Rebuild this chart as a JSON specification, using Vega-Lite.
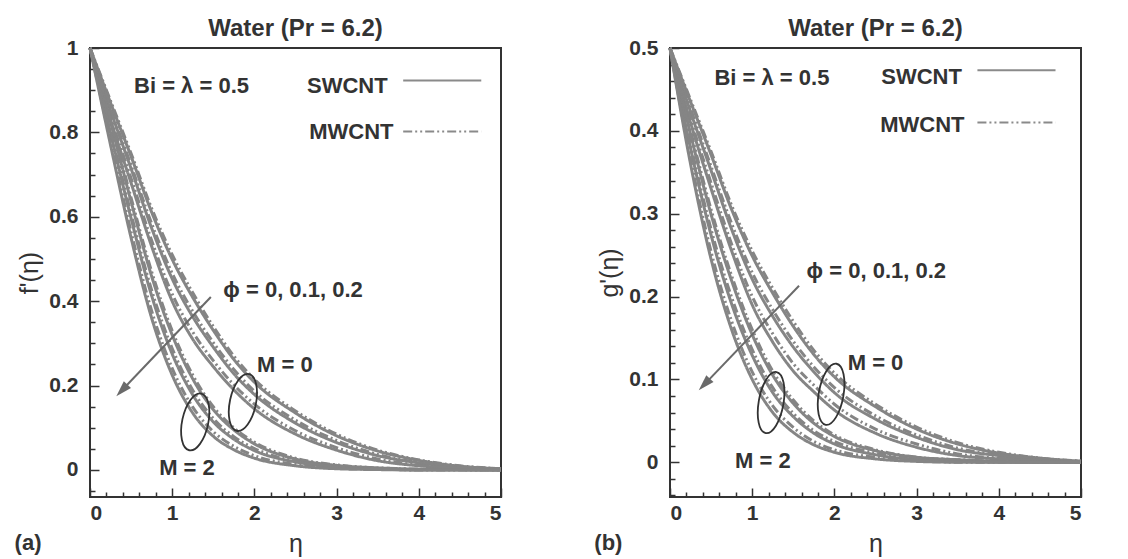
{
  "$schema": "https://vega.github.io/schema/vega-lite/v6.json",
  "padding": {"left": 13, "top": 16, "right": 5, "bottom": 0},
  "background": "white",
  "spacing": 169,
  "bounds": "flush",
  "config": {
    "view": {"stroke": "#333333", "strokeWidth": 2},
    "font": "Liberation Sans",
    "axis": {
      "domain": false, "grid": false, "labelOverlap": false, "format": "~g", "tickCount": 100,
      "labelFont": "Liberation Sans", "labelFontSize": 21, "labelFontWeight": "bold", "labelColor": "#333333",
      "tickColor": "#333333", "tickWidth": 1.5,
      "titleFont": "Liberation Sans", "titleFontSize": 25, "titleFontWeight": "normal", "titleColor": "#333333"
    },
    "title": {"font": "Liberation Sans", "fontSize": 24, "fontWeight": "bold", "color": "#333333", "offset": -4, "frame": "group"}
  },
  "datasets": {
    "fa": [
      {"M":0,"phi":0,"cnt":"MWCNT","eta":0,"v":1},{"M":0,"phi":0,"cnt":"MWCNT","eta":0.25,"v":0.875},{"M":0,"phi":0,"cnt":"MWCNT","eta":0.5,"v":0.75},{"M":0,"phi":0,"cnt":"MWCNT","eta":0.75,"v":0.62},{"M":0,"phi":0,"cnt":"MWCNT","eta":1,"v":0.51},{"M":0,"phi":0,"cnt":"MWCNT","eta":1.25,"v":0.42},{"M":0,"phi":0,"cnt":"MWCNT","eta":1.5,"v":0.34},{"M":0,"phi":0,"cnt":"MWCNT","eta":1.75,"v":0.27},{"M":0,"phi":0,"cnt":"MWCNT","eta":2,"v":0.215},{"M":0,"phi":0,"cnt":"MWCNT","eta":2.5,"v":0.14},{"M":0,"phi":0,"cnt":"MWCNT","eta":3,"v":0.085},{"M":0,"phi":0,"cnt":"MWCNT","eta":3.5,"v":0.047},{"M":0,"phi":0,"cnt":"MWCNT","eta":4,"v":0.024},{"M":0,"phi":0,"cnt":"MWCNT","eta":4.5,"v":0.01},{"M":0,"phi":0,"cnt":"MWCNT","eta":5,"v":0.003},
      {"M":0,"phi":0,"cnt":"SWCNT","eta":0,"v":1},{"M":0,"phi":0,"cnt":"SWCNT","eta":0.25,"v":0.87},{"M":0,"phi":0,"cnt":"SWCNT","eta":0.5,"v":0.743},{"M":0,"phi":0,"cnt":"SWCNT","eta":0.75,"v":0.611},{"M":0,"phi":0,"cnt":"SWCNT","eta":1,"v":0.499},{"M":0,"phi":0,"cnt":"SWCNT","eta":1.25,"v":0.409},{"M":0,"phi":0,"cnt":"SWCNT","eta":1.5,"v":0.331},{"M":0,"phi":0,"cnt":"SWCNT","eta":1.75,"v":0.262},{"M":0,"phi":0,"cnt":"SWCNT","eta":2,"v":0.208},{"M":0,"phi":0,"cnt":"SWCNT","eta":2.5,"v":0.135},{"M":0,"phi":0,"cnt":"SWCNT","eta":3,"v":0.081},{"M":0,"phi":0,"cnt":"SWCNT","eta":3.5,"v":0.045},{"M":0,"phi":0,"cnt":"SWCNT","eta":4,"v":0.023},{"M":0,"phi":0,"cnt":"SWCNT","eta":4.5,"v":0.009},{"M":0,"phi":0,"cnt":"SWCNT","eta":5,"v":0.003},
      {"M":0,"phi":0.1,"cnt":"MWCNT","eta":0,"v":1},{"M":0,"phi":0.1,"cnt":"MWCNT","eta":0.25,"v":0.857},{"M":0,"phi":0.1,"cnt":"MWCNT","eta":0.5,"v":0.722},{"M":0,"phi":0.1,"cnt":"MWCNT","eta":0.75,"v":0.584},{"M":0,"phi":0.1,"cnt":"MWCNT","eta":1,"v":0.466},{"M":0,"phi":0.1,"cnt":"MWCNT","eta":1.25,"v":0.376},{"M":0,"phi":0.1,"cnt":"MWCNT","eta":1.5,"v":0.302},{"M":0,"phi":0.1,"cnt":"MWCNT","eta":1.75,"v":0.238},{"M":0,"phi":0.1,"cnt":"MWCNT","eta":2,"v":0.187},{"M":0,"phi":0.1,"cnt":"MWCNT","eta":2.5,"v":0.118},{"M":0,"phi":0.1,"cnt":"MWCNT","eta":3,"v":0.07},{"M":0,"phi":0.1,"cnt":"MWCNT","eta":3.5,"v":0.037},{"M":0,"phi":0.1,"cnt":"MWCNT","eta":4,"v":0.018},{"M":0,"phi":0.1,"cnt":"MWCNT","eta":4.5,"v":0.008},{"M":0,"phi":0.1,"cnt":"MWCNT","eta":5,"v":0.002},
      {"M":0,"phi":0.1,"cnt":"SWCNT","eta":0,"v":1},{"M":0,"phi":0.1,"cnt":"SWCNT","eta":0.25,"v":0.852},{"M":0,"phi":0.1,"cnt":"SWCNT","eta":0.5,"v":0.714},{"M":0,"phi":0.1,"cnt":"SWCNT","eta":0.75,"v":0.573},{"M":0,"phi":0.1,"cnt":"SWCNT","eta":1,"v":0.453},{"M":0,"phi":0.1,"cnt":"SWCNT","eta":1.25,"v":0.363},{"M":0,"phi":0.1,"cnt":"SWCNT","eta":1.5,"v":0.291},{"M":0,"phi":0.1,"cnt":"SWCNT","eta":1.75,"v":0.228},{"M":0,"phi":0.1,"cnt":"SWCNT","eta":2,"v":0.179},{"M":0,"phi":0.1,"cnt":"SWCNT","eta":2.5,"v":0.111},{"M":0,"phi":0.1,"cnt":"SWCNT","eta":3,"v":0.065},{"M":0,"phi":0.1,"cnt":"SWCNT","eta":3.5,"v":0.034},{"M":0,"phi":0.1,"cnt":"SWCNT","eta":4,"v":0.017},{"M":0,"phi":0.1,"cnt":"SWCNT","eta":4.5,"v":0.007},{"M":0,"phi":0.1,"cnt":"SWCNT","eta":5,"v":0.002},
      {"M":0,"phi":0.2,"cnt":"MWCNT","eta":0,"v":1},{"M":0,"phi":0.2,"cnt":"MWCNT","eta":0.25,"v":0.837},{"M":0,"phi":0.2,"cnt":"MWCNT","eta":0.5,"v":0.691},{"M":0,"phi":0.2,"cnt":"MWCNT","eta":0.75,"v":0.544},{"M":0,"phi":0.2,"cnt":"MWCNT","eta":1,"v":0.417},{"M":0,"phi":0.2,"cnt":"MWCNT","eta":1.25,"v":0.327},{"M":0,"phi":0.2,"cnt":"MWCNT","eta":1.5,"v":0.259},{"M":0,"phi":0.2,"cnt":"MWCNT","eta":1.75,"v":0.202},{"M":0,"phi":0.2,"cnt":"MWCNT","eta":2,"v":0.156},{"M":0,"phi":0.2,"cnt":"MWCNT","eta":2.5,"v":0.093},{"M":0,"phi":0.2,"cnt":"MWCNT","eta":3,"v":0.053},{"M":0,"phi":0.2,"cnt":"MWCNT","eta":3.5,"v":0.026},{"M":0,"phi":0.2,"cnt":"MWCNT","eta":4,"v":0.012},{"M":0,"phi":0.2,"cnt":"MWCNT","eta":4.5,"v":0.005},{"M":0,"phi":0.2,"cnt":"MWCNT","eta":5,"v":0.001},
      {"M":0,"phi":0.2,"cnt":"SWCNT","eta":0,"v":1},{"M":0,"phi":0.2,"cnt":"SWCNT","eta":0.25,"v":0.83},{"M":0,"phi":0.2,"cnt":"SWCNT","eta":0.5,"v":0.68},{"M":0,"phi":0.2,"cnt":"SWCNT","eta":0.75,"v":0.53},{"M":0,"phi":0.2,"cnt":"SWCNT","eta":1,"v":0.4},{"M":0,"phi":0.2,"cnt":"SWCNT","eta":1.25,"v":0.31},{"M":0,"phi":0.2,"cnt":"SWCNT","eta":1.5,"v":0.245},{"M":0,"phi":0.2,"cnt":"SWCNT","eta":1.75,"v":0.19},{"M":0,"phi":0.2,"cnt":"SWCNT","eta":2,"v":0.145},{"M":0,"phi":0.2,"cnt":"SWCNT","eta":2.5,"v":0.085},{"M":0,"phi":0.2,"cnt":"SWCNT","eta":3,"v":0.047},{"M":0,"phi":0.2,"cnt":"SWCNT","eta":3.5,"v":0.022},{"M":0,"phi":0.2,"cnt":"SWCNT","eta":4,"v":0.01},{"M":0,"phi":0.2,"cnt":"SWCNT","eta":4.5,"v":0.004},{"M":0,"phi":0.2,"cnt":"SWCNT","eta":5,"v":0.001},
      {"M":2,"phi":0,"cnt":"MWCNT","eta":0,"v":1},{"M":2,"phi":0,"cnt":"MWCNT","eta":0.25,"v":0.83},{"M":2,"phi":0,"cnt":"MWCNT","eta":0.5,"v":0.645},{"M":2,"phi":0,"cnt":"MWCNT","eta":0.75,"v":0.47},{"M":2,"phi":0,"cnt":"MWCNT","eta":1,"v":0.33},{"M":2,"phi":0,"cnt":"MWCNT","eta":1.25,"v":0.225},{"M":2,"phi":0,"cnt":"MWCNT","eta":1.5,"v":0.15},{"M":2,"phi":0,"cnt":"MWCNT","eta":1.75,"v":0.1},{"M":2,"phi":0,"cnt":"MWCNT","eta":2,"v":0.066},{"M":2,"phi":0,"cnt":"MWCNT","eta":2.5,"v":0.028},{"M":2,"phi":0,"cnt":"MWCNT","eta":3,"v":0.012},{"M":2,"phi":0,"cnt":"MWCNT","eta":3.5,"v":0.005},{"M":2,"phi":0,"cnt":"MWCNT","eta":4,"v":0.002},{"M":2,"phi":0,"cnt":"MWCNT","eta":4.5,"v":0.001},{"M":2,"phi":0,"cnt":"MWCNT","eta":5,"v":0},
      {"M":2,"phi":0,"cnt":"SWCNT","eta":0,"v":1},{"M":2,"phi":0,"cnt":"SWCNT","eta":0.25,"v":0.824},{"M":2,"phi":0,"cnt":"SWCNT","eta":0.5,"v":0.636},{"M":2,"phi":0,"cnt":"SWCNT","eta":0.75,"v":0.459},{"M":2,"phi":0,"cnt":"SWCNT","eta":1,"v":0.32},{"M":2,"phi":0,"cnt":"SWCNT","eta":1.25,"v":0.216},{"M":2,"phi":0,"cnt":"SWCNT","eta":1.5,"v":0.143},{"M":2,"phi":0,"cnt":"SWCNT","eta":1.75,"v":0.095},{"M":2,"phi":0,"cnt":"SWCNT","eta":2,"v":0.062},{"M":2,"phi":0,"cnt":"SWCNT","eta":2.5,"v":0.026},{"M":2,"phi":0,"cnt":"SWCNT","eta":3,"v":0.011},{"M":2,"phi":0,"cnt":"SWCNT","eta":3.5,"v":0.005},{"M":2,"phi":0,"cnt":"SWCNT","eta":4,"v":0.002},{"M":2,"phi":0,"cnt":"SWCNT","eta":4.5,"v":0.001},{"M":2,"phi":0,"cnt":"SWCNT","eta":5,"v":0},
      {"M":2,"phi":0.1,"cnt":"MWCNT","eta":0,"v":1},{"M":2,"phi":0.1,"cnt":"MWCNT","eta":0.25,"v":0.806},{"M":2,"phi":0.1,"cnt":"MWCNT","eta":0.5,"v":0.607},{"M":2,"phi":0.1,"cnt":"MWCNT","eta":0.75,"v":0.426},{"M":2,"phi":0.1,"cnt":"MWCNT","eta":1,"v":0.288},{"M":2,"phi":0.1,"cnt":"MWCNT","eta":1.25,"v":0.189},{"M":2,"phi":0.1,"cnt":"MWCNT","eta":1.5,"v":0.122},{"M":2,"phi":0.1,"cnt":"MWCNT","eta":1.75,"v":0.079},{"M":2,"phi":0.1,"cnt":"MWCNT","eta":2,"v":0.051},{"M":2,"phi":0.1,"cnt":"MWCNT","eta":2.5,"v":0.021},{"M":2,"phi":0.1,"cnt":"MWCNT","eta":3,"v":0.008},{"M":2,"phi":0.1,"cnt":"MWCNT","eta":3.5,"v":0.003},{"M":2,"phi":0.1,"cnt":"MWCNT","eta":4,"v":0.001},{"M":2,"phi":0.1,"cnt":"MWCNT","eta":4.5,"v":0.001},{"M":2,"phi":0.1,"cnt":"MWCNT","eta":5,"v":0},
      {"M":2,"phi":0.1,"cnt":"SWCNT","eta":0,"v":1},{"M":2,"phi":0.1,"cnt":"SWCNT","eta":0.25,"v":0.799},{"M":2,"phi":0.1,"cnt":"SWCNT","eta":0.5,"v":0.596},{"M":2,"phi":0.1,"cnt":"SWCNT","eta":0.75,"v":0.413},{"M":2,"phi":0.1,"cnt":"SWCNT","eta":1,"v":0.275},{"M":2,"phi":0.1,"cnt":"SWCNT","eta":1.25,"v":0.178},{"M":2,"phi":0.1,"cnt":"SWCNT","eta":1.5,"v":0.114},{"M":2,"phi":0.1,"cnt":"SWCNT","eta":1.75,"v":0.073},{"M":2,"phi":0.1,"cnt":"SWCNT","eta":2,"v":0.046},{"M":2,"phi":0.1,"cnt":"SWCNT","eta":2.5,"v":0.019},{"M":2,"phi":0.1,"cnt":"SWCNT","eta":3,"v":0.007},{"M":2,"phi":0.1,"cnt":"SWCNT","eta":3.5,"v":0.003},{"M":2,"phi":0.1,"cnt":"SWCNT","eta":4,"v":0},{"M":2,"phi":0.1,"cnt":"SWCNT","eta":4.5,"v":0},{"M":2,"phi":0.1,"cnt":"SWCNT","eta":5,"v":0},
      {"M":2,"phi":0.2,"cnt":"MWCNT","eta":0,"v":1},{"M":2,"phi":0.2,"cnt":"MWCNT","eta":0.25,"v":0.779},{"M":2,"phi":0.2,"cnt":"MWCNT","eta":0.5,"v":0.564},{"M":2,"phi":0.2,"cnt":"MWCNT","eta":0.75,"v":0.377},{"M":2,"phi":0.2,"cnt":"MWCNT","eta":1,"v":0.241},{"M":2,"phi":0.2,"cnt":"MWCNT","eta":1.25,"v":0.149},{"M":2,"phi":0.2,"cnt":"MWCNT","eta":1.5,"v":0.091},{"M":2,"phi":0.2,"cnt":"MWCNT","eta":1.75,"v":0.056},{"M":2,"phi":0.2,"cnt":"MWCNT","eta":2,"v":0.034},{"M":2,"phi":0.2,"cnt":"MWCNT","eta":2.5,"v":0.013},{"M":2,"phi":0.2,"cnt":"MWCNT","eta":3,"v":0.004},{"M":2,"phi":0.2,"cnt":"MWCNT","eta":3.5,"v":0.002},{"M":2,"phi":0.2,"cnt":"MWCNT","eta":4,"v":0},{"M":2,"phi":0.2,"cnt":"MWCNT","eta":4.5,"v":0},{"M":2,"phi":0.2,"cnt":"MWCNT","eta":5,"v":0},
      {"M":2,"phi":0.2,"cnt":"SWCNT","eta":0,"v":1},{"M":2,"phi":0.2,"cnt":"SWCNT","eta":0.25,"v":0.77},{"M":2,"phi":0.2,"cnt":"SWCNT","eta":0.5,"v":0.55},{"M":2,"phi":0.2,"cnt":"SWCNT","eta":0.75,"v":0.36},{"M":2,"phi":0.2,"cnt":"SWCNT","eta":1,"v":0.225},{"M":2,"phi":0.2,"cnt":"SWCNT","eta":1.25,"v":0.135},{"M":2,"phi":0.2,"cnt":"SWCNT","eta":1.5,"v":0.08},{"M":2,"phi":0.2,"cnt":"SWCNT","eta":1.75,"v":0.048},{"M":2,"phi":0.2,"cnt":"SWCNT","eta":2,"v":0.028},{"M":2,"phi":0.2,"cnt":"SWCNT","eta":2.5,"v":0.01},{"M":2,"phi":0.2,"cnt":"SWCNT","eta":3,"v":0.003},{"M":2,"phi":0.2,"cnt":"SWCNT","eta":3.5,"v":0.001},{"M":2,"phi":0.2,"cnt":"SWCNT","eta":4,"v":0},{"M":2,"phi":0.2,"cnt":"SWCNT","eta":4.5,"v":0},{"M":2,"phi":0.2,"cnt":"SWCNT","eta":5,"v":0}
    ],
    "gb": [
      {"M":0,"phi":0,"cnt":"MWCNT","eta":0,"v":0.5},{"M":0,"phi":0,"cnt":"MWCNT","eta":0.25,"v":0.4375},{"M":0,"phi":0,"cnt":"MWCNT","eta":0.5,"v":0.375},{"M":0,"phi":0,"cnt":"MWCNT","eta":0.75,"v":0.31},{"M":0,"phi":0,"cnt":"MWCNT","eta":1,"v":0.255},{"M":0,"phi":0,"cnt":"MWCNT","eta":1.25,"v":0.21},{"M":0,"phi":0,"cnt":"MWCNT","eta":1.5,"v":0.17},{"M":0,"phi":0,"cnt":"MWCNT","eta":1.75,"v":0.135},{"M":0,"phi":0,"cnt":"MWCNT","eta":2,"v":0.1075},{"M":0,"phi":0,"cnt":"MWCNT","eta":2.5,"v":0.07},{"M":0,"phi":0,"cnt":"MWCNT","eta":3,"v":0.0425},{"M":0,"phi":0,"cnt":"MWCNT","eta":3.5,"v":0.0235},{"M":0,"phi":0,"cnt":"MWCNT","eta":4,"v":0.012},{"M":0,"phi":0,"cnt":"MWCNT","eta":4.5,"v":0.005},{"M":0,"phi":0,"cnt":"MWCNT","eta":5,"v":0.0015},
      {"M":0,"phi":0,"cnt":"SWCNT","eta":0,"v":0.5},{"M":0,"phi":0,"cnt":"SWCNT","eta":0.25,"v":0.435},{"M":0,"phi":0,"cnt":"SWCNT","eta":0.5,"v":0.371},{"M":0,"phi":0,"cnt":"SWCNT","eta":0.75,"v":0.305},{"M":0,"phi":0,"cnt":"SWCNT","eta":1,"v":0.249},{"M":0,"phi":0,"cnt":"SWCNT","eta":1.25,"v":0.204},{"M":0,"phi":0,"cnt":"SWCNT","eta":1.5,"v":0.164},{"M":0,"phi":0,"cnt":"SWCNT","eta":1.75,"v":0.13},{"M":0,"phi":0,"cnt":"SWCNT","eta":2,"v":0.103},{"M":0,"phi":0,"cnt":"SWCNT","eta":2.5,"v":0.067},{"M":0,"phi":0,"cnt":"SWCNT","eta":3,"v":0.04},{"M":0,"phi":0,"cnt":"SWCNT","eta":3.5,"v":0.022},{"M":0,"phi":0,"cnt":"SWCNT","eta":4,"v":0.011},{"M":0,"phi":0,"cnt":"SWCNT","eta":4.5,"v":0.005},{"M":0,"phi":0,"cnt":"SWCNT","eta":5,"v":0.001},
      {"M":0,"phi":0.1,"cnt":"MWCNT","eta":0,"v":0.5},{"M":0,"phi":0.1,"cnt":"MWCNT","eta":0.25,"v":0.427},{"M":0,"phi":0.1,"cnt":"MWCNT","eta":0.5,"v":0.357},{"M":0,"phi":0.1,"cnt":"MWCNT","eta":0.75,"v":0.288},{"M":0,"phi":0.1,"cnt":"MWCNT","eta":1,"v":0.229},{"M":0,"phi":0.1,"cnt":"MWCNT","eta":1.25,"v":0.184},{"M":0,"phi":0.1,"cnt":"MWCNT","eta":1.5,"v":0.146},{"M":0,"phi":0.1,"cnt":"MWCNT","eta":1.75,"v":0.115},{"M":0,"phi":0.1,"cnt":"MWCNT","eta":2,"v":0.09},{"M":0,"phi":0.1,"cnt":"MWCNT","eta":2.5,"v":0.056},{"M":0,"phi":0.1,"cnt":"MWCNT","eta":3,"v":0.033},{"M":0,"phi":0.1,"cnt":"MWCNT","eta":3.5,"v":0.017},{"M":0,"phi":0.1,"cnt":"MWCNT","eta":4,"v":0.009},{"M":0,"phi":0.1,"cnt":"MWCNT","eta":4.5,"v":0.004},{"M":0,"phi":0.1,"cnt":"MWCNT","eta":5,"v":0.001},
      {"M":0,"phi":0.1,"cnt":"SWCNT","eta":0,"v":0.5},{"M":0,"phi":0.1,"cnt":"SWCNT","eta":0.25,"v":0.423},{"M":0,"phi":0.1,"cnt":"SWCNT","eta":0.5,"v":0.352},{"M":0,"phi":0.1,"cnt":"SWCNT","eta":0.75,"v":0.281},{"M":0,"phi":0.1,"cnt":"SWCNT","eta":1,"v":0.221},{"M":0,"phi":0.1,"cnt":"SWCNT","eta":1.25,"v":0.176},{"M":0,"phi":0.1,"cnt":"SWCNT","eta":1.5,"v":0.139},{"M":0,"phi":0.1,"cnt":"SWCNT","eta":1.75,"v":0.109},{"M":0,"phi":0.1,"cnt":"SWCNT","eta":2,"v":0.084},{"M":0,"phi":0.1,"cnt":"SWCNT","eta":2.5,"v":0.052},{"M":0,"phi":0.1,"cnt":"SWCNT","eta":3,"v":0.03},{"M":0,"phi":0.1,"cnt":"SWCNT","eta":3.5,"v":0.015},{"M":0,"phi":0.1,"cnt":"SWCNT","eta":4,"v":0.008},{"M":0,"phi":0.1,"cnt":"SWCNT","eta":4.5,"v":0.003},{"M":0,"phi":0.1,"cnt":"SWCNT","eta":5,"v":0.001},
      {"M":0,"phi":0.2,"cnt":"MWCNT","eta":0,"v":0.5},{"M":0,"phi":0.2,"cnt":"MWCNT","eta":0.25,"v":0.414},{"M":0,"phi":0.2,"cnt":"MWCNT","eta":0.5,"v":0.337},{"M":0,"phi":0.2,"cnt":"MWCNT","eta":0.75,"v":0.263},{"M":0,"phi":0.2,"cnt":"MWCNT","eta":1,"v":0.2},{"M":0,"phi":0.2,"cnt":"MWCNT","eta":1.25,"v":0.155},{"M":0,"phi":0.2,"cnt":"MWCNT","eta":1.5,"v":0.119},{"M":0,"phi":0.2,"cnt":"MWCNT","eta":1.75,"v":0.093},{"M":0,"phi":0.2,"cnt":"MWCNT","eta":2,"v":0.07},{"M":0,"phi":0.2,"cnt":"MWCNT","eta":2.5,"v":0.04},{"M":0,"phi":0.2,"cnt":"MWCNT","eta":3,"v":0.022},{"M":0,"phi":0.2,"cnt":"MWCNT","eta":3.5,"v":0.01},{"M":0,"phi":0.2,"cnt":"MWCNT","eta":4,"v":0.005},{"M":0,"phi":0.2,"cnt":"MWCNT","eta":4.5,"v":0.002},{"M":0,"phi":0.2,"cnt":"MWCNT","eta":5,"v":0},
      {"M":0,"phi":0.2,"cnt":"SWCNT","eta":0,"v":0.5},{"M":0,"phi":0.2,"cnt":"SWCNT","eta":0.25,"v":0.41},{"M":0,"phi":0.2,"cnt":"SWCNT","eta":0.5,"v":0.33},{"M":0,"phi":0.2,"cnt":"SWCNT","eta":0.75,"v":0.255},{"M":0,"phi":0.2,"cnt":"SWCNT","eta":1,"v":0.19},{"M":0,"phi":0.2,"cnt":"SWCNT","eta":1.25,"v":0.145},{"M":0,"phi":0.2,"cnt":"SWCNT","eta":1.5,"v":0.11},{"M":0,"phi":0.2,"cnt":"SWCNT","eta":1.75,"v":0.085},{"M":0,"phi":0.2,"cnt":"SWCNT","eta":2,"v":0.063},{"M":0,"phi":0.2,"cnt":"SWCNT","eta":2.5,"v":0.035},{"M":0,"phi":0.2,"cnt":"SWCNT","eta":3,"v":0.018},{"M":0,"phi":0.2,"cnt":"SWCNT","eta":3.5,"v":0.008},{"M":0,"phi":0.2,"cnt":"SWCNT","eta":4,"v":0.004},{"M":0,"phi":0.2,"cnt":"SWCNT","eta":4.5,"v":0.002},{"M":0,"phi":0.2,"cnt":"SWCNT","eta":5,"v":0},
      {"M":2,"phi":0,"cnt":"MWCNT","eta":0,"v":0.5},{"M":2,"phi":0,"cnt":"MWCNT","eta":0.25,"v":0.4},{"M":2,"phi":0,"cnt":"MWCNT","eta":0.5,"v":0.305},{"M":2,"phi":0,"cnt":"MWCNT","eta":0.75,"v":0.225},{"M":2,"phi":0,"cnt":"MWCNT","eta":1,"v":0.16},{"M":2,"phi":0,"cnt":"MWCNT","eta":1.25,"v":0.11},{"M":2,"phi":0,"cnt":"MWCNT","eta":1.5,"v":0.075},{"M":2,"phi":0,"cnt":"MWCNT","eta":1.75,"v":0.05},{"M":2,"phi":0,"cnt":"MWCNT","eta":2,"v":0.033},{"M":2,"phi":0,"cnt":"MWCNT","eta":2.5,"v":0.015},{"M":2,"phi":0,"cnt":"MWCNT","eta":3,"v":0.006},{"M":2,"phi":0,"cnt":"MWCNT","eta":3.5,"v":0.003},{"M":2,"phi":0,"cnt":"MWCNT","eta":4,"v":0.001},{"M":2,"phi":0,"cnt":"MWCNT","eta":4.5,"v":0},{"M":2,"phi":0,"cnt":"MWCNT","eta":5,"v":0},
      {"M":2,"phi":0,"cnt":"SWCNT","eta":0,"v":0.5},{"M":2,"phi":0,"cnt":"SWCNT","eta":0.25,"v":0.396},{"M":2,"phi":0,"cnt":"SWCNT","eta":0.5,"v":0.299},{"M":2,"phi":0,"cnt":"SWCNT","eta":0.75,"v":0.219},{"M":2,"phi":0,"cnt":"SWCNT","eta":1,"v":0.154},{"M":2,"phi":0,"cnt":"SWCNT","eta":1.25,"v":0.105},{"M":2,"phi":0,"cnt":"SWCNT","eta":1.5,"v":0.071},{"M":2,"phi":0,"cnt":"SWCNT","eta":1.75,"v":0.047},{"M":2,"phi":0,"cnt":"SWCNT","eta":2,"v":0.031},{"M":2,"phi":0,"cnt":"SWCNT","eta":2.5,"v":0.014},{"M":2,"phi":0,"cnt":"SWCNT","eta":3,"v":0.006},{"M":2,"phi":0,"cnt":"SWCNT","eta":3.5,"v":0.003},{"M":2,"phi":0,"cnt":"SWCNT","eta":4,"v":0.001},{"M":2,"phi":0,"cnt":"SWCNT","eta":4.5,"v":0},{"M":2,"phi":0,"cnt":"SWCNT","eta":5,"v":0},
      {"M":2,"phi":0.1,"cnt":"MWCNT","eta":0,"v":0.5},{"M":2,"phi":0.1,"cnt":"MWCNT","eta":0.25,"v":0.384},{"M":2,"phi":0.1,"cnt":"MWCNT","eta":0.5,"v":0.281},{"M":2,"phi":0.1,"cnt":"MWCNT","eta":0.75,"v":0.199},{"M":2,"phi":0.1,"cnt":"MWCNT","eta":1,"v":0.136},{"M":2,"phi":0.1,"cnt":"MWCNT","eta":1.25,"v":0.09},{"M":2,"phi":0.1,"cnt":"MWCNT","eta":1.5,"v":0.059},{"M":2,"phi":0.1,"cnt":"MWCNT","eta":1.75,"v":0.038},{"M":2,"phi":0.1,"cnt":"MWCNT","eta":2,"v":0.025},{"M":2,"phi":0.1,"cnt":"MWCNT","eta":2.5,"v":0.011},{"M":2,"phi":0.1,"cnt":"MWCNT","eta":3,"v":0.004},{"M":2,"phi":0.1,"cnt":"MWCNT","eta":3.5,"v":0.002},{"M":2,"phi":0.1,"cnt":"MWCNT","eta":4,"v":0.001},{"M":2,"phi":0.1,"cnt":"MWCNT","eta":4.5,"v":0},{"M":2,"phi":0.1,"cnt":"MWCNT","eta":5,"v":0},
      {"M":2,"phi":0.1,"cnt":"SWCNT","eta":0,"v":0.5},{"M":2,"phi":0.1,"cnt":"SWCNT","eta":0.25,"v":0.379},{"M":2,"phi":0.1,"cnt":"SWCNT","eta":0.5,"v":0.274},{"M":2,"phi":0.1,"cnt":"SWCNT","eta":0.75,"v":0.191},{"M":2,"phi":0.1,"cnt":"SWCNT","eta":1,"v":0.129},{"M":2,"phi":0.1,"cnt":"SWCNT","eta":1.25,"v":0.084},{"M":2,"phi":0.1,"cnt":"SWCNT","eta":1.5,"v":0.055},{"M":2,"phi":0.1,"cnt":"SWCNT","eta":1.75,"v":0.035},{"M":2,"phi":0.1,"cnt":"SWCNT","eta":2,"v":0.022},{"M":2,"phi":0.1,"cnt":"SWCNT","eta":2.5,"v":0.009},{"M":2,"phi":0.1,"cnt":"SWCNT","eta":3,"v":0.003},{"M":2,"phi":0.1,"cnt":"SWCNT","eta":3.5,"v":0.001},{"M":2,"phi":0.1,"cnt":"SWCNT","eta":4,"v":0},{"M":2,"phi":0.1,"cnt":"SWCNT","eta":4.5,"v":0},{"M":2,"phi":0.1,"cnt":"SWCNT","eta":5,"v":0},
      {"M":2,"phi":0.2,"cnt":"MWCNT","eta":0,"v":0.5},{"M":2,"phi":0.2,"cnt":"MWCNT","eta":0.25,"v":0.366},{"M":2,"phi":0.2,"cnt":"MWCNT","eta":0.5,"v":0.254},{"M":2,"phi":0.2,"cnt":"MWCNT","eta":0.75,"v":0.17},{"M":2,"phi":0.2,"cnt":"MWCNT","eta":1,"v":0.109},{"M":2,"phi":0.2,"cnt":"MWCNT","eta":1.25,"v":0.068},{"M":2,"phi":0.2,"cnt":"MWCNT","eta":1.5,"v":0.042},{"M":2,"phi":0.2,"cnt":"MWCNT","eta":1.75,"v":0.025},{"M":2,"phi":0.2,"cnt":"MWCNT","eta":2,"v":0.015},{"M":2,"phi":0.2,"cnt":"MWCNT","eta":2.5,"v":0.006},{"M":2,"phi":0.2,"cnt":"MWCNT","eta":3,"v":0.002},{"M":2,"phi":0.2,"cnt":"MWCNT","eta":3.5,"v":0},{"M":2,"phi":0.2,"cnt":"MWCNT","eta":4,"v":0},{"M":2,"phi":0.2,"cnt":"MWCNT","eta":4.5,"v":0},{"M":2,"phi":0.2,"cnt":"MWCNT","eta":5,"v":0},
      {"M":2,"phi":0.2,"cnt":"SWCNT","eta":0,"v":0.5},{"M":2,"phi":0.2,"cnt":"SWCNT","eta":0.25,"v":0.36},{"M":2,"phi":0.2,"cnt":"SWCNT","eta":0.5,"v":0.245},{"M":2,"phi":0.2,"cnt":"SWCNT","eta":0.75,"v":0.16},{"M":2,"phi":0.2,"cnt":"SWCNT","eta":1,"v":0.1},{"M":2,"phi":0.2,"cnt":"SWCNT","eta":1.25,"v":0.06},{"M":2,"phi":0.2,"cnt":"SWCNT","eta":1.5,"v":0.036},{"M":2,"phi":0.2,"cnt":"SWCNT","eta":1.75,"v":0.021},{"M":2,"phi":0.2,"cnt":"SWCNT","eta":2,"v":0.012},{"M":2,"phi":0.2,"cnt":"SWCNT","eta":2.5,"v":0.004},{"M":2,"phi":0.2,"cnt":"SWCNT","eta":3,"v":0.001},{"M":2,"phi":0.2,"cnt":"SWCNT","eta":3.5,"v":0},{"M":2,"phi":0.2,"cnt":"SWCNT","eta":4,"v":0},{"M":2,"phi":0.2,"cnt":"SWCNT","eta":4.5,"v":0},{"M":2,"phi":0.2,"cnt":"SWCNT","eta":5,"v":0}
    ]
  },
  "hconcat": [
    {
      "width": 411, "height": 449,
      "title": {"text": "Water (Pr = 6.2)"},
      "layer": [
        {
          "data": {"name": "fa"},
          "mark": {"type": "line", "interpolate": "monotone", "strokeWidth": 3, "color": "#858585"},
          "encoding": {
            "x": {"field": "eta", "type": "quantitative", "scale": {"domain": [0, 5], "nice": false, "zero": false},
              "axis": {"title": "η", "titlePadding": 4, "labelOverlap": false, "format": "~g", "tickCount": 100,
                "values": [0,0.2,0.4,0.6,0.8,1,1.2,1.4,1.6,1.8,2,2.2,2.4,2.6,2.8,3,3.2,3.4,3.6,3.8,4,4.2,4.4,4.6,4.8,5],
                "labelExpr": "datum.value % 1 == 0 ? datum.label : ''",
                "tickSize": {"condition": {"test": "datum.value % 1 == 0", "value": -9}, "value": -5},
                "labelPadding": 14}},
            "y": {"field": "v", "type": "quantitative", "scale": {"domain": [-0.064, 1], "nice": false, "zero": false},
              "axis": {"title": "f'(η)", "titlePadding": 6, "labelOverlap": false, "format": "~g", "tickCount": 100,
                "values": [-0.05,0,0.05,0.1,0.15,0.2,0.25,0.3,0.35,0.4,0.45,0.5,0.55,0.6,0.65,0.7,0.75,0.8,0.85,0.9,0.95,1],
                "labelExpr": "abs(datum.value*5 - round(datum.value*5)) < 0.001 ? datum.label : ''",
                "tickSize": {"condition": {"test": "abs(datum.value*5 - round(datum.value*5)) < 0.001", "value": -9}, "value": -5},
                "labelPadding": 21}},
            "detail": [{"field": "M"}, {"field": "phi"}],
            "strokeDash": {"field": "cnt", "type": "nominal", "scale": {"domain": ["SWCNT", "MWCNT"], "range": [[1, 0], [9, 3, 2, 3, 2, 3]]}, "legend": null}
          }
        },
        {
          "data": {"values": [{"eta": 3.81, "eta2": 4.76, "v": 0.923, "cnt": "SWCNT"}, {"eta": 3.81, "eta2": 4.76, "v": 0.802, "cnt": "MWCNT"}]},
          "mark": {"type": "rule", "strokeWidth": 2, "color": "#8a8a8a"},
          "encoding": {"x": {"field": "eta", "type": "quantitative"}, "x2": {"field": "eta2"}, "y": {"field": "v", "type": "quantitative"},
            "strokeDash": {"field": "cnt", "type": "nominal", "legend": null}}
        },
        {
          "data": {"values": [{"eta": 1.47, "v": 0.41, "eta2": 0.36, "v2": 0.183}]},
          "mark": {"type": "rule", "strokeWidth": 2, "color": "#6a6a6a"},
          "encoding": {"x": {"field": "eta", "type": "quantitative"}, "x2": {"field": "eta2"}, "y": {"field": "v", "type": "quantitative"}, "y2": {"field": "v2"}}
        },
        {
          "data": {"values": [{"eta": 0.32, "v": 0.175}]},
          "mark": {"type": "point", "shape": "M0,0L0.5,1.6L-0.5,1.6Z", "size": 400, "angle": 224, "filled": true, "color": "#6a6a6a", "opacity": 1},
          "encoding": {"x": {"field": "eta", "type": "quantitative"}, "y": {"field": "v", "type": "quantitative"}}
        },
        {
          "data": {"values": [{"eta": 1.86, "v": 0.16}, {"eta": 1.28, "v": 0.114}]},
          "mark": {"type": "point", "shape": "M0,-1A0.45,1,0,1,1,0,1A0.45,1,0,1,1,0,-1Z", "size": 3364, "angle": 12, "filled": false, "color": "#333333", "strokeWidth": 1.8, "opacity": 1},
          "encoding": {"x": {"field": "eta", "type": "quantitative"}, "y": {"field": "v", "type": "quantitative"}}
        },
        {
          "data": {"values": [
            {"eta": 1.235, "v": 0.911, "label": "Bi = λ = 0.5"},
            {"eta": 3.13, "v": 0.911, "label": "SWCNT"},
            {"eta": 3.18, "v": 0.80, "label": "MWCNT"},
            {"eta": 2.47, "v": 0.426, "label": "ϕ = 0, 0.1, 0.2"},
            {"eta": 2.37, "v": 0.249, "label": "M = 0"},
            {"eta": 1.18, "v": 0.005, "label": "M = 2"},
            {"eta": -0.754, "v": -0.173, "label": "(a)"}
          ]},
          "mark": {"type": "text", "font": "Liberation Sans", "fontSize": 22, "fontWeight": "bold", "color": "#333333", "align": "center", "baseline": "middle"},
          "encoding": {"x": {"field": "eta", "type": "quantitative"}, "y": {"field": "v", "type": "quantitative"}, "text": {"field": "label"}}
        }
      ]
    },
    {
      "width": 411, "height": 449,
      "title": {"text": "Water (Pr = 6.2)"},
      "layer": [
        {
          "data": {"name": "gb"},
          "mark": {"type": "line", "interpolate": "monotone", "strokeWidth": 3, "color": "#858585"},
          "encoding": {
            "x": {"field": "eta", "type": "quantitative", "scale": {"domain": [0, 5], "nice": false, "zero": false},
              "axis": {"title": "η", "titlePadding": 4, "labelOverlap": false, "format": "~g", "tickCount": 100,
                "values": [0,0.2,0.4,0.6,0.8,1,1.2,1.4,1.6,1.8,2,2.2,2.4,2.6,2.8,3,3.2,3.4,3.6,3.8,4,4.2,4.4,4.6,4.8,5],
                "labelExpr": "datum.value % 1 == 0 ? datum.label : ''",
                "tickSize": {"condition": {"test": "datum.value % 1 == 0", "value": -9}, "value": -5},
                "labelPadding": 14}},
            "y": {"field": "v", "type": "quantitative", "scale": {"domain": [-0.042, 0.5], "nice": false, "zero": false},
              "axis": {"title": "g'(η)", "titlePadding": 6, "labelOverlap": false, "format": "~g", "tickCount": 100,
                "values": [-0.04,-0.02,0,0.02,0.04,0.06,0.08,0.1,0.12,0.14,0.16,0.18,0.2,0.22,0.24,0.26,0.28,0.3,0.32,0.34,0.36,0.38,0.4,0.42,0.44,0.46,0.48,0.5],
                "labelExpr": "abs(datum.value*10 - round(datum.value*10)) < 0.001 ? datum.label : ''",
                "tickSize": {"condition": {"test": "abs(datum.value*10 - round(datum.value*10)) < 0.001", "value": -9}, "value": -5},
                "labelPadding": 21}},
            "detail": [{"field": "M"}, {"field": "phi"}],
            "strokeDash": {"field": "cnt", "type": "nominal", "scale": {"domain": ["SWCNT", "MWCNT"], "range": [[1, 0], [9, 3, 2, 3, 2, 3]]}, "legend": null}
          }
        },
        {
          "data": {"values": [{"eta": 3.74, "eta2": 4.69, "v": 0.473, "cnt": "SWCNT"}, {"eta": 3.74, "eta2": 4.69, "v": 0.41, "cnt": "MWCNT"}]},
          "mark": {"type": "rule", "strokeWidth": 2, "color": "#8a8a8a"},
          "encoding": {"x": {"field": "eta", "type": "quantitative"}, "x2": {"field": "eta2"}, "y": {"field": "v", "type": "quantitative"},
            "strokeDash": {"field": "cnt", "type": "nominal", "legend": null}}
        },
        {
          "data": {"values": [{"eta": 1.57, "v": 0.213, "eta2": 0.39, "v2": 0.091}]},
          "mark": {"type": "rule", "strokeWidth": 2, "color": "#6a6a6a"},
          "encoding": {"x": {"field": "eta", "type": "quantitative"}, "x2": {"field": "eta2"}, "y": {"field": "v", "type": "quantitative"}, "y2": {"field": "v2"}}
        },
        {
          "data": {"values": [{"eta": 0.35, "v": 0.087}]},
          "mark": {"type": "point", "shape": "M0,0L0.5,1.6L-0.5,1.6Z", "size": 400, "angle": 224, "filled": true, "color": "#6a6a6a", "opacity": 1},
          "encoding": {"x": {"field": "eta", "type": "quantitative"}, "y": {"field": "v", "type": "quantitative"}}
        },
        {
          "data": {"values": [{"eta": 1.96, "v": 0.082}, {"eta": 1.23, "v": 0.072}]},
          "mark": {"type": "point", "shape": "M0,-1A0.4,1,0,1,1,0,1A0.4,1,0,1,1,0,-1Z", "size": 3844, "angle": 10, "filled": false, "color": "#333333", "strokeWidth": 1.8, "opacity": 1},
          "encoding": {"x": {"field": "eta", "type": "quantitative"}, "y": {"field": "v", "type": "quantitative"}}
        },
        {
          "data": {"values": [
            {"eta": 1.24, "v": 0.464, "label": "Bi = λ = 0.5"},
            {"eta": 3.06, "v": 0.465, "label": "SWCNT"},
            {"eta": 3.07, "v": 0.407, "label": "MWCNT"},
            {"eta": 2.51, "v": 0.231, "label": "ϕ = 0, 0.1, 0.2"},
            {"eta": 2.5, "v": 0.12, "label": "M = 0"},
            {"eta": 1.13, "v": 0.002, "label": "M = 2"},
            {"eta": -0.75, "v": -0.098, "label": "(b)"}
          ]},
          "mark": {"type": "text", "font": "Liberation Sans", "fontSize": 22, "fontWeight": "bold", "color": "#333333", "align": "center", "baseline": "middle"},
          "encoding": {"x": {"field": "eta", "type": "quantitative"}, "y": {"field": "v", "type": "quantitative"}, "text": {"field": "label"}}
        }
      ]
    }
  ]
}
